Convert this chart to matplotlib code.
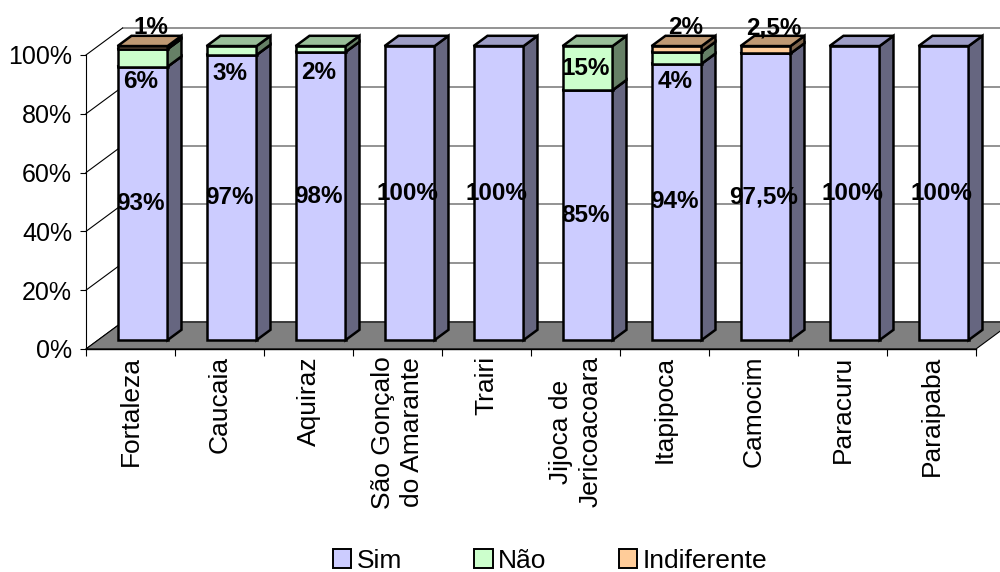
import numpy as np
import matplotlib
matplotlib.use('Agg')
import matplotlib.pyplot as plt
from matplotlib.patches import Polygon, Patch

plt.rcParams['font.family'] = ['Liberation Sans', 'DejaVu Sans']

municipios = ['Fortaleza', 'Caucaia', 'Aquiraz', 'São Gonçalo\ndo Amarante', 'Trairi',
              'Jijoca de\nJericoacoara', 'Itapipoca', 'Camocim', 'Paracuru', 'Paraipaba']
sim = [93, 97, 98, 100, 100, 85, 94, 97.5, 100, 100]
nao = [6, 3, 2, 0, 0, 15, 4, 0, 0, 0]
indiferente = [1, 0, 0, 0, 0, 0, 2, 2.5, 0, 0]
series_names = ['Sim', 'Não', 'Indiferente']

# front / top / side shades per series
front_cols = ['#CCCCFF', '#CCFFCC', '#FFCC99']
top_cols = ['#9D9DC6', '#99BF99', '#BF9973']
side_cols = ['#666680', '#668066', '#80664D']


def pct(v):
    return f'{v:g}'.replace('.', ',') + '%'


fig = plt.figure(figsize=(10, 5.72), dpi=100)
ax = fig.add_axes([0.086, 0.3899, 0.89, 0.514])
ax.set_xlim(-0.5, 9.5)
ax.set_ylim(0, 100)

# fake 3d: floor depth vector and where the bars sit inside it
dx, dy = 0.411, 9.18
front = 0.33
depth = 0.38
bw = 0.562
fx, fy = front * dx, front * dy
ddx, ddy = depth * dx, depth * dy

# back wall grid + left wall diagonals
for g in range(0, 101, 20):
    ax.plot([-0.5 + dx, 9.5 + dx + 1], [g + dy, g + dy], color='#808080', lw=1.2,
            clip_on=False, zorder=1)
    ax.plot([-0.5, -0.5 + dx], [g, g + dy], color='black', lw=0.8, clip_on=False, zorder=1)

floor = Polygon([(-0.5, 0), (9.5, 0), (9.5 + dx, dy), (-0.5 + dx, dy)], closed=True,
                facecolor='#808080', edgecolor='black', lw=0.8, clip_on=False, zorder=2)
ax.add_patch(floor)

z = 3
for i in range(len(municipios)):
    bottom = 0
    for k, vals in enumerate([sim, nao, indiferente]):
        v = vals[i]
        if v <= 0:
            continue
        x0 = i + fx - bw / 2
        x1 = x0 + bw
        y0 = bottom + fy
        y1 = y0 + v
        ax.bar(i + fx, v, bottom=y0, width=bw, color=front_cols[k], edgecolor='black',
               lw=1.8, clip_on=False, zorder=z)
        side = Polygon([(x1, y0), (x1 + ddx, y0 + ddy), (x1 + ddx, y1 + ddy), (x1, y1)],
                       closed=True, facecolor=side_cols[k], edgecolor='black', lw=1.8,
                       clip_on=False, zorder=z)
        top = Polygon([(x0, y1), (x1, y1), (x1 + ddx, y1 + ddy), (x0 + ddx, y1 + ddy)],
                      closed=True, facecolor=top_cols[k], edgecolor='black', lw=1.8,
                      clip_on=False, zorder=z)
        ax.add_patch(side)
        ax.add_patch(top)
        z += 1
        bottom += v

# value labels
lab = dict(ha='center', va='center', fontsize=17.5, fontweight='bold', zorder=100)
for i in range(len(municipios)):
    ax.text(i + fx - 0.02, sim[i] / 2 + fy, pct(sim[i]), **lab)
    if nao[i] > 0:
        shift = 8 if nao[i] < 10 else 0
        ax.text(i + fx - 0.02, sim[i] + nao[i] / 2 - shift + fy, pct(nao[i]), **lab)
    if indiferente[i] > 0:
        top_y = sim[i] + nao[i] + indiferente[i]
        ax.text(i + fx + ddx / 2 + 0.02, top_y + fy + ddy / 2 + 4.5, pct(indiferente[i]), **lab)

for s in ['top', 'right']:
    ax.spines[s].set_visible(False)
ax.spines['left'].set_linewidth(0.8)
ax.spines['bottom'].set_linewidth(1.0)
ax.spines['left'].set_zorder(2.5)
ax.spines['bottom'].set_zorder(2.5)
ax.patch.set_visible(False)

ax.set_yticks(range(0, 101, 20))
ax.set_yticklabels([f'{g}%' for g in range(0, 101, 20)])
ax.tick_params(axis='y', length=4, width=0.8, pad=6, labelsize=18)

ax.set_xticks(range(len(municipios)))
ax.set_xticklabels(municipios, rotation=90, fontsize=19, linespacing=1.3)
for t in ax.get_xticklabels():
    t.set_multialignment('center')
ax.tick_params(axis='x', which='major', length=0, pad=5)
ax.set_xticks(np.arange(-0.5, 10, 1), minor=True)
ax.tick_params(axis='x', which='minor', length=5, width=0.8)

handles = [Patch(facecolor=c, edgecolor='black', lw=1.4) for c in front_cols]
fig.legend(handles, series_names, loc='center', bbox_to_anchor=(0.550, 0.02), ncol=3,
           frameon=False, fontsize=19, handlelength=0.7, handleheight=0.7,
           handletextpad=0.2, columnspacing=2.75)

fig.savefig('out.png', dpi=100)
